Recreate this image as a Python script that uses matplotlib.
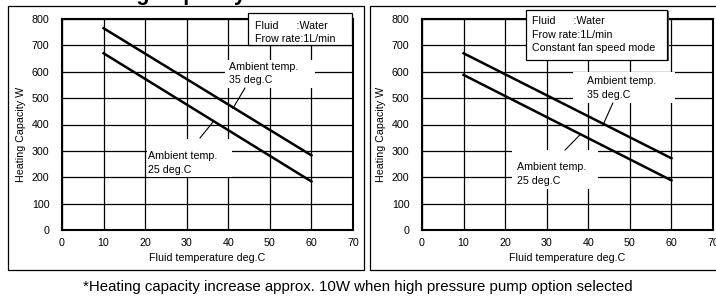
import matplotlib
matplotlib.use("Agg")
import matplotlib.pyplot as plt
from matplotlib.patches import Rectangle

plt.rcParams['font.family'] = ['Liberation Sans', 'DejaVu Sans']

# data
fluid_temp = [10, 60]
left_35 = [765, 283]
left_25 = [670, 184]
right_35 = [670, 272]
right_25 = [588, 188]

x_ticks = [0, 10, 20, 30, 40, 50, 60, 70]
y_ticks = [0, 100, 200, 300, 400, 500, 600, 700, 800]

legend_left = "Fluid      :Water\nFrow rate:1L/min"
legend_right = "Fluid      :Water\nFrow rate:1L/min\nConstant fan speed mode"
label_35 = "Ambient temp.\n35 deg.C"
label_25 = "Ambient temp.\n25 deg.C"
footnote = "*Heating capacity increase approx. 10W when high pressure pump option selected"

W, H = 716, 299
fig = plt.figure(figsize=(W / 100, H / 100), dpi=100)

def px_axes(x0, y0, x1, y1):
    return fig.add_axes([x0 / W, 1 - y1 / H, (x1 - x0) / W, (y1 - y0) / H])

def setup(ax):
    ax.set_xlim(0, 70)
    ax.set_ylim(0, 800)
    ax.set_xticks(x_ticks)
    ax.set_yticks(y_ticks)
    ax.tick_params(length=0, labelsize=7.7)
    ax.tick_params(axis='y', pad=9)
    ax.tick_params(axis='x', pad=6)
    ax.grid(True, color='black', lw=0.9)
    ax.set_axisbelow(True)
    for s in ax.spines.values():
        s.set_linewidth(1.5)
    ax.text(-0.142, 0.455, "Heating Capacity W", rotation=90, ha='center', va='center',
            fontsize=7.7, transform=ax.transAxes)
    ax.text(0.5, -0.133, "Fluid temperature deg.C", ha='center', va='center',
            fontsize=7.7, transform=ax.transAxes)

def mask(ax, x0, x1, y0, y1):
    ax.add_patch(Rectangle((x0, y0), x1 - x0, y1 - y0, fc='white', ec='none', zorder=2))

def legend_box(ax, x0, x1, y0, y1, tx, ty, txt):
    ax.add_patch(Rectangle((x0 + 0.4, y0 - 4), x1 - x0, y1 - y0, fc='#555555', ec='none',
                           zorder=5, clip_on=False))
    ax.add_patch(Rectangle((x0, y0), x1 - x0, y1 - y0, fc='white', ec='black', lw=0.9,
                           zorder=6, clip_on=False))
    ax.text(tx, ty, txt, ha='left', va='top', fontsize=7.7, linespacing=1.4, zorder=7,
            clip_on=False)

# left panel
axL = px_axes(62, 19, 353, 230)
setup(axL)
mask(axL, 39.2, 60.8, 538, 645)
mask(axL, 20.4, 40.9, 201, 345)
axL.plot(fluid_temp, left_35, color='black', lw=1.8, zorder=3)
axL.plot(fluid_temp, left_25, color='black', lw=1.8, zorder=3)
axL.text(40.1, 637, label_35, ha='left', va='top', fontsize=7.7, linespacing=1.4, zorder=4)
axL.text(20.6, 298, label_25, ha='left', va='top', fontsize=7.7, linespacing=1.4, zorder=4)
axL.plot([41.1, 44.0], [461, 538], color='black', lw=0.8, zorder=4)
axL.plot([36.5, 33.2], [413, 349], color='black', lw=0.8, zorder=4)
legend_box(axL, 44.7, 69.7, 701, 823, 46.4, 792, legend_left)

# right panel
axR = px_axes(422, 19, 713, 230)
setup(axR)
mask(axR, 36.3, 60.8, 481, 599)
mask(axR, 21.6, 42.3, 155, 303)
axR.plot(fluid_temp, right_35, color='black', lw=1.8, zorder=3)
axR.plot(fluid_temp, right_25, color='black', lw=1.8, zorder=3)
axR.text(39.7, 582, label_35, ha='left', va='top', fontsize=7.7, linespacing=1.4, zorder=4)
axR.text(22.8, 256, label_25, ha='left', va='top', fontsize=7.7, linespacing=1.4, zorder=4)
axR.plot([43.5, 45.9], [397, 481], color='black', lw=0.8, zorder=4)
axR.plot([38.0, 34.4], [361, 303], color='black', lw=0.8, zorder=4)
legend_box(axR, 25.0, 58.9, 645, 834, 26.4, 810, legend_right)

# panel frames
fig.patches.append(Rectangle((8 / W, 1 - 270 / H), (364 - 8) / W, (270 - 6) / H,
                             transform=fig.transFigure, fill=False, ec='black', lw=0.9))
fig.patches.append(Rectangle((370 / W, 1 - 270 / H), (720 - 370) / W, (270 - 6) / H,
                             transform=fig.transFigure, fill=False, ec='black', lw=0.9))

# title only partly inside the picture, as in the reference
fig.text(158 / W, 1.0, "Heating Capacity", ha='center', va='baseline', fontsize=15.6,
         fontweight='bold')
fig.text(0.5, 1 - 287 / H, footnote, ha='center', va='center', fontsize=10.8)

fig.savefig("out.png", dpi=100)
